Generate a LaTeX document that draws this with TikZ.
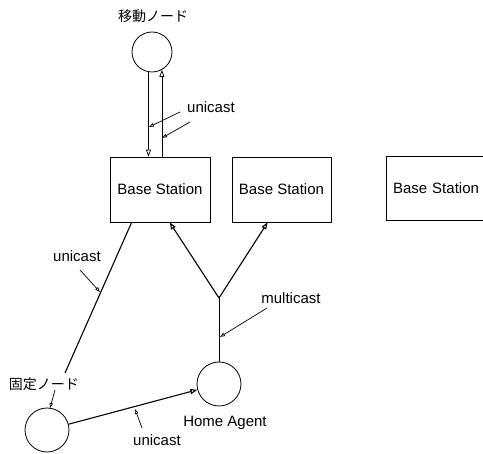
\documentclass[tikz,border=0pt]{standalone}
\usepackage{fontspec}
\setmainfont{Liberation Sans}
\newfontfamily\jp{Noto Sans CJK JP}
\usetikzlibrary{arrows.meta,calc}
\begin{document}
\begin{tikzpicture}[x=1pt,y=-1pt,
  every node/.style={font=\fontsize{15}{17}\selectfont},
  station/.style={draw,line width=0.7pt,rectangle,minimum width=100pt,minimum height=65pt,inner sep=0pt},
  hostnode/.style={draw,line width=0.8pt,circle,inner sep=0pt},
  lbl/.style={inner sep=0pt},
  jplbl/.style={inner sep=0pt,font=\jp\fontsize{14}{16}\selectfont},
  link/.style={line width=1.1pt},
  thinlink/.style={line width=0.7pt},
  tip/.style={-{Triangle[open,length=7pt,width=5pt]}},
  ptr/.style={line width=0.7pt,-{Triangle[open,length=5pt,width=3.5pt]}}
]
\useasboundingbox (0,0) rectangle (483,454);
\begin{scope}
\clip (0,0) rectangle (483,454);
% nodes
\node[hostnode,minimum size=40pt] (mob) at (152,52) {};
\node[jplbl] (mobLabel) at (153,16) {移動ノード};
\node[station] (bs1) at (160,189.5) {Base Station};
\node[station,minimum width=99pt] (bs2) at (281.5,189.5) {Base Station};
\node[station,minimum height=64pt,text width=100pt,align=center] (bs3) at (436,188) {Base Station};
\node[hostnode,minimum size=44pt] (fixed) at (47,430) {};
\node[jplbl] (fixedLabel) at (44,384) {固定ノード};
\node[hostnode,minimum size=44pt] (ha) at (219,384) {};
\node[lbl] (haLabel) at (225,423) {Home Agent};
\node[lbl] (uniTop) at (211,107) {unicast};
\node[lbl] (uniLeft) at (77,256) {unicast};
\node[lbl] (uniBottom) at (157,440) {unicast};
\node[lbl] (multi) at (291,298) {multicast};
% coordinates
\coordinate (J) at (219,298);
\coordinate (leftEnd) at (65,373);
\coordinate (p1s) at (180,112);
\coordinate (p1e) at (149,127);
\coordinate (p2s) at (190,122);
\coordinate (p2e) at (162,138);
\coordinate (p3s) at (80,270);
\coordinate (p3e) at (100,292);
\coordinate (p4s) at (55,390);
\coordinate (p4e) at (50,408);
\coordinate (p5s) at (142,428);
\coordinate (p5e) at (135,409);
\coordinate (p6s) at (267,308);
\coordinate (p6e) at (220,337);
% mobile links
\draw[thinlink,tip] (mob.260) -- (mob.260 |- bs1.north);
\draw[thinlink,tip] (mob.299 |- bs1.north) -- (mob.299);
% left unicast
\draw[link] ($(bs1.south west)+(22,0)$) -- (leftEnd);
% fixed to home agent
\draw[link,tip] (fixed) -- (ha);
% multicast tree
\draw[thinlink] (ha.north) -- (J);
\draw[link,tip] (J) -- ($(bs1.south west)+(60,0)$);
\draw[link,tip] (J) -- ($(bs2.south west)+(36,0)$);
% pointers
\draw[ptr] (p1s) -- (p1e);
\draw[ptr] (p2s) -- (p2e);
\draw[ptr] (p3s) -- (p3e);
\draw[ptr] (p4s) -- (p4e);
\draw[ptr] (p5s) -- (p5e);
\draw[ptr] (p6s) -- (p6e);
\end{scope}
\end{tikzpicture}
\end{document}
